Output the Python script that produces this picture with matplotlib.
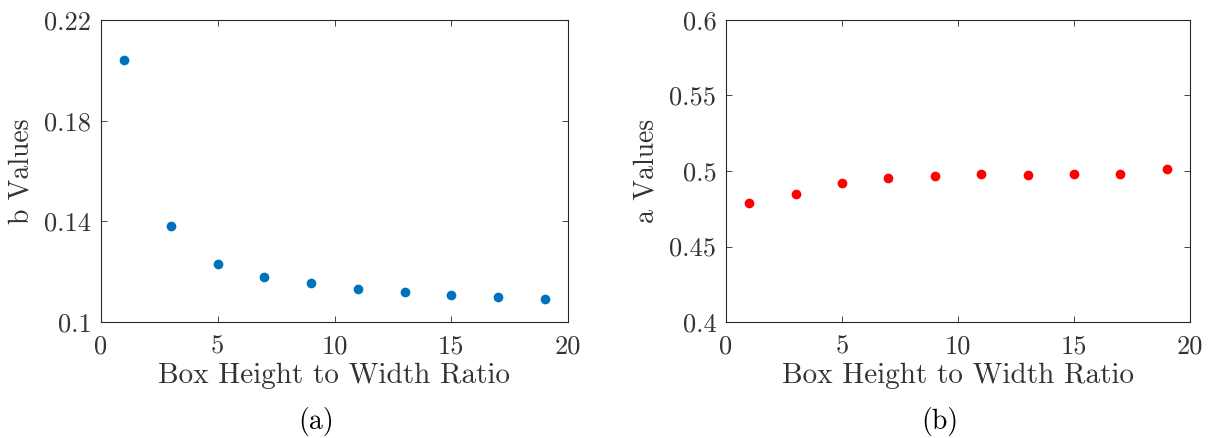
import numpy as np
import matplotlib.pyplot as plt

plt.rcParams['font.family'] = 'cmr10'
plt.rcParams['axes.formatter.use_mathtext'] = True

# box height to width ratio
ratio = [1, 3, 5, 7, 9, 11, 13, 15, 17, 19]
# fitted b and a values
bValues = [0.2042, 0.1380, 0.1230, 0.1180, 0.1154, 0.1133, 0.1121, 0.1109, 0.1101, 0.1093]
aValues = [0.4789, 0.4846, 0.4919, 0.4952, 0.4967, 0.4980, 0.4976, 0.4978, 0.4980, 0.5013]

xTicks = [0, 5, 10, 15, 20]
bTicks = [0.1, 0.14, 0.18, 0.22]
bTickLabels = ['0.1', '0.14', '0.18', '0.22']
aTicks = [0.4, 0.45, 0.5, 0.55, 0.6]
aTickLabels = ['0.4', '0.45', '0.5', '0.55', '0.6']

axisColor = '#262626'
textColor = '#333333'

fig = plt.figure(figsize=(12.23, 4.38), dpi=100)
ax1 = fig.add_axes([101/1223, 1 - 322/438, 467/1223, 302/438])
ax2 = fig.add_axes([726/1223, 1 - 322/438, 464/1223, 302/438])


def styleAxis(ax, yTicks, yLabels, yName):
    ax.set_xlim(0, 20)
    ax.set_xticks(xTicks)
    ax.set_xticklabels([str(t) for t in xTicks])
    ax.set_ylim(yTicks[0], yTicks[-1])
    ax.set_yticks(yTicks)
    ax.set_yticklabels(yLabels)
    ax.tick_params(direction='in', top=True, right=True, length=4, width=0.6,
                   colors=axisColor, labelcolor=textColor, labelsize=19)
    ax.tick_params(axis='x', pad=9)
    ax.tick_params(axis='y', pad=7)
    for s in ax.spines.values():
        s.set_color(axisColor)
        s.set_linewidth(0.8)
    ax.set_xlabel('Box Height to Width Ratio', fontsize=21, color=textColor, labelpad=3)
    ax.set_ylabel(yName, fontsize=20, color=textColor, labelpad=7)


ax1.plot(ratio, bValues, 'o', color='#0072BD', markersize=7, markeredgewidth=0)
styleAxis(ax1, bTicks, bTickLabels, 'b Values')

ax2.plot(ratio, aValues, 'o', color='#FF0000', markersize=7, markeredgewidth=0)
styleAxis(ax2, aTicks, aTickLabels, 'a Values')

fig.text(316/1223, 1 - 421/438, '(a)', fontsize=20, ha='center', va='center')
fig.text(940/1223, 1 - 421/438, '(b)', fontsize=20, ha='center', va='center')

fig.savefig('out.png', dpi=100)
